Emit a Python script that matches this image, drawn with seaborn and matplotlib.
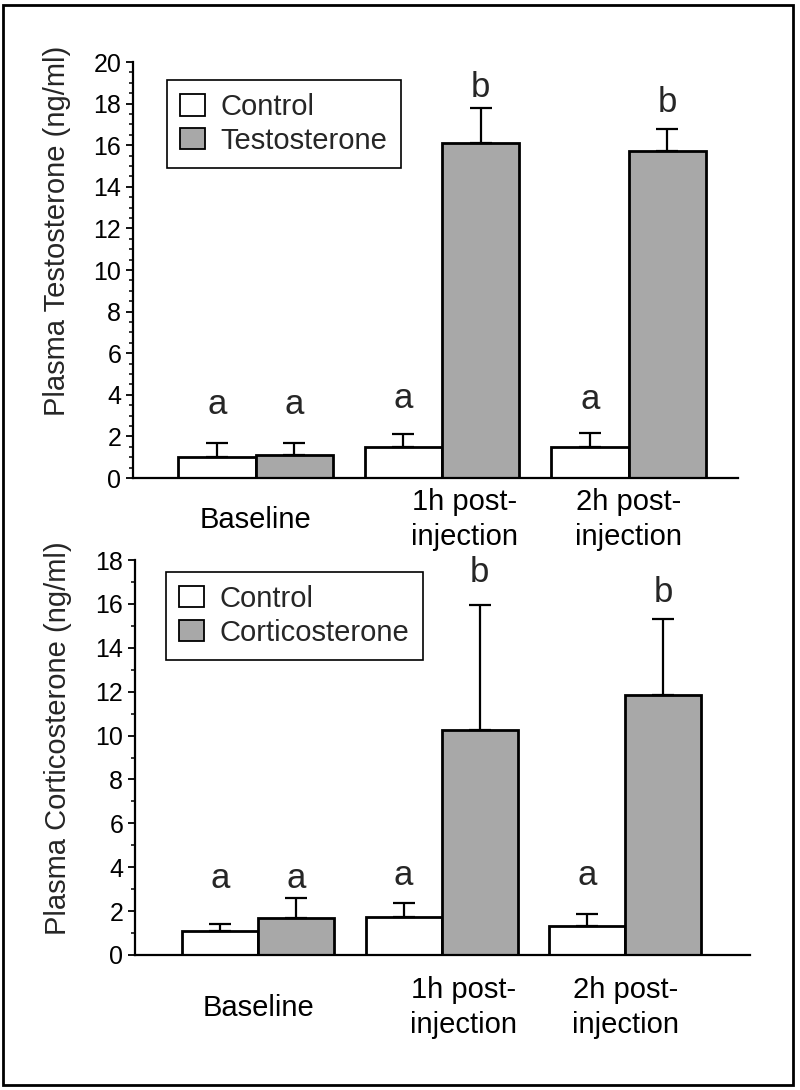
import numpy as np
import pandas as pd
import matplotlib
matplotlib.use("Agg")
import matplotlib.pyplot as plt
import seaborn as sns
from matplotlib.patches import Patch, Rectangle
from matplotlib.ticker import MultipleLocator
from matplotlib.transforms import ScaledTranslation

# ---------------- data ----------------
groups = ["Baseline", "1h post-\ninjection", "2h post-\ninjection"]

t_control = [1.0, 1.5, 1.5]
t_control_err = [0.7, 0.6, 0.65]
t_testo = [1.1, 16.1, 15.7]
t_testo_err = [0.6, 1.7, 1.1]
t_letters_control = ["a", "a", "a"]
t_letters_testo = ["a", "b", "b"]
t_letter_y_control = [3.1, 3.35, 3.3]
t_letter_y_testo = [3.1, 18.3, 17.6]

c_control = [1.1, 1.75, 1.3]
c_control_err = [0.3, 0.62, 0.55]
c_cort = [1.7, 10.25, 11.85]
c_cort_err = [0.9, 5.7, 3.47]
c_letters_control = ["a", "a", "a"]
c_letters_cort = ["a", "b", "b"]
c_letter_y_control = [3.05, 3.2, 3.2]
c_letter_y_cort = [3.05, 17.0, 16.1]

GRAY = "#a8a8a8"

sns.set_style("ticks")
plt.rcParams["font.family"] = ["Liberation Sans", "DejaVu Sans"]

fig = plt.figure(figsize=(8, 10.9), dpi=100)
ax1 = fig.add_axes([133 / 800, 1 - 478 / 1090, 605 / 800, 416 / 1090])
ax2 = fig.add_axes([135 / 800, 1 - 955 / 1090, 615 / 800, 395 / 1090])


def panel(ax, treat_name, ctrl, ctrl_err, trt, trt_err, lets_c, lets_t,
          ly_c, ly_t, ylim, minor, ylabel, xlim, label_y, legend_xy, xpad):
    df = pd.DataFrame({
        "Time": groups * 2,
        "Group": ["Control"] * 3 + [treat_name] * 3,
        "Value": ctrl + trt,
    })
    sns.barplot(data=df, x="Time", y="Value", hue="Group", order=groups,
                hue_order=["Control", treat_name],
                palette={"Control": "white", treat_name: GRAY},
                edgecolor="black", linewidth=2.0, width=0.83,
                errorbar=None, legend=False, saturation=1, ax=ax)
    for cont, errs, lets, lys in zip(ax.containers, [ctrl_err, trt_err],
                                     [lets_c, lets_t], [ly_c, ly_t]):
        xs = [p.get_x() + p.get_width() / 2 for p in cont]
        hs = [p.get_height() for p in cont]
        ax.errorbar(xs, hs, yerr=[np.zeros(len(errs)), errs], fmt="none",
                    ecolor="black", elinewidth=1.6, capsize=8, capthick=1.6)
        for x, l, y in zip(xs, lets, lys):
            ax.text(x, y, l, ha="center", va="baseline", fontsize=25)

    handles = [Patch(facecolor="white", edgecolor="black", lw=1.3, label="Control"),
               Patch(facecolor=GRAY, edgecolor="black", lw=1.3, label=treat_name)]
    leg = ax.legend(handles=handles, loc="upper left", bbox_to_anchor=legend_xy,
                    frameon=True, fancybox=False, edgecolor="black", framealpha=1,
                    fontsize=21, handlelength=0.85, handleheight=0.75,
                    handletextpad=0.55, labelspacing=0.2, borderpad=0.45,
                    borderaxespad=0)
    leg.get_frame().set_linewidth(1.2)

    ax.set_xlim(*xlim)
    ax.set_ylim(*ylim)
    ax.yaxis.set_major_locator(MultipleLocator(2))
    ax.yaxis.set_minor_locator(MultipleLocator(minor))
    sns.despine(ax=ax)
    for s in ["left", "bottom"]:
        ax.spines[s].set_linewidth(1.6)
        ax.spines[s].set_color("black")
    ax.set_xlabel("")
    ax.set_ylabel(ylabel, fontsize=21)
    ax.yaxis.set_label_coords(-0.102, label_y)
    ax.tick_params(axis="x", length=0, labelsize=21, pad=xpad, colors="black")
    ax.tick_params(axis="y", which="major", length=5, width=1.3,
                   labelsize=18, direction="out", colors="black")
    ax.tick_params(axis="y", which="minor", length=3, width=1.1,
                   direction="out", colors="black")
    labels = ax.get_xticklabels()
    for lbl in labels:
        lbl.set_verticalalignment("center")
        lbl.set_linespacing(1.3)
    # the middle label sits slightly right of its bar pair in the original
    labels[1].set_transform(labels[1].get_transform()
                            + ScaledTranslation(22 / 100, 0, fig.dpi_scale_trans))


panel(ax1, "Testosterone", t_control, t_control_err, t_testo, t_testo_err,
      t_letters_control, t_letters_testo, t_letter_y_control, t_letter_y_testo,
      (0, 20), 0.5, "Plasma Testosterone (ng/ml)", (-0.658, 2.587), 0.594,
      (0.056, 0.957), 30)
panel(ax2, "Corticosterone", c_control, c_control_err, c_cort, c_cort_err,
      c_letters_control, c_letters_cort, c_letter_y_control, c_letter_y_cort,
      (0, 18), 1, "Plasma Corticosterone (ng/ml)", (-0.671, 2.68), 0.55,
      (0.05, 0.97), 38)

fig.add_artist(Rectangle((3 / 800, 5 / 1090), 790 / 800, 1080 / 1090,
                         transform=fig.transFigure, fill=False, lw=2,
                         ec="black"))

fig.savefig("out.png", dpi=100)
